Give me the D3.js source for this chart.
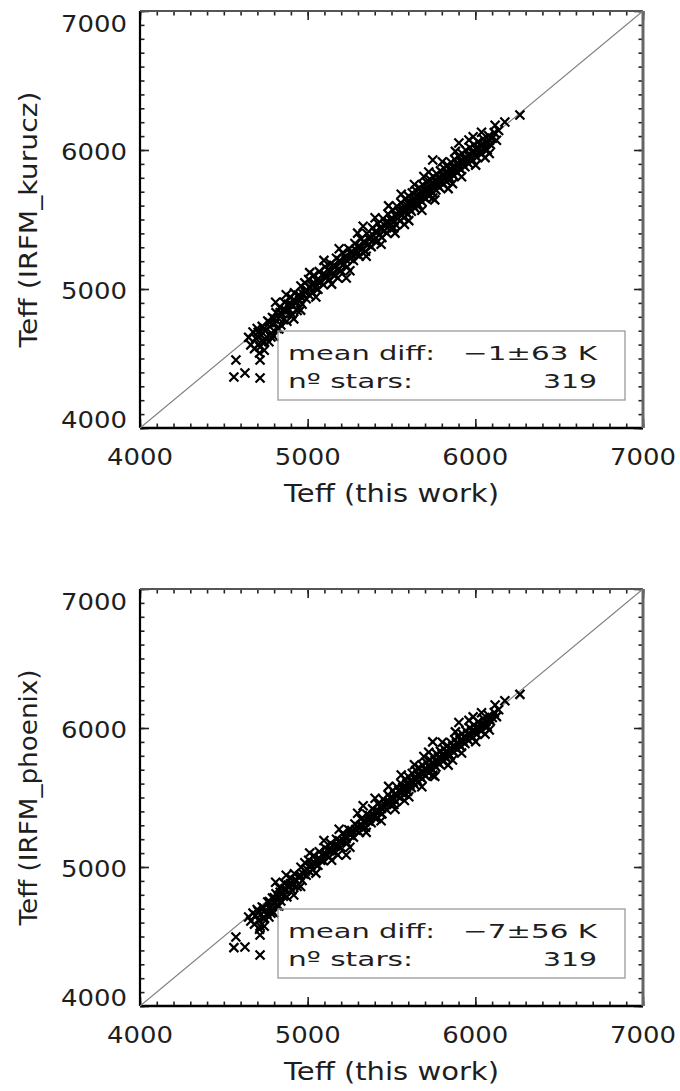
<!DOCTYPE html>
<html>
<head>
<meta charset="utf-8">
<script src="https://cdn.jsdelivr.net/npm/d3@7"></script>
<style>
  body { margin: 0; background: #fff; }
  text { font-family: "DejaVu Sans", sans-serif; fill: #1e1e1e; }
</style>
</head>
<body>
<div id="chart-area"></div>
<script>
// Teff of the stars, this work vs IRFM (kurucz / phoenix models)
var teffThisWork = [
  4560, 4572, 4626, 4716, 4716, 4716, 6176, 6266, 5746, 5902, 5746, 5514, 5180, 5230,
  4648, 4661, 4674, 4683, 4690, 4699, 4707, 4713, 4722, 4729,
  4735, 4741, 4748, 4756, 4762, 4769, 4775, 4783, 4790, 4797,
  4804, 4811, 4818, 4825, 4833, 4840, 4847, 4855, 4861, 4869,
  4876, 4884, 4892, 4899, 4906, 4914, 4921, 4929, 4937, 4944,
  4952, 4960, 4967, 4975, 4983, 4991, 4998, 5006, 5013, 5021,
  5029, 5037, 5045, 5053, 5061, 5069, 5078, 5086, 5094, 5103,
  5111, 5120, 5129, 5137, 5146, 5155, 5163, 5172, 5181, 5190,
  5199, 5208, 5217, 5226, 5236, 5245, 5254, 5263, 5273, 5282,
  5291, 5300, 5309, 5318, 5327, 5336, 5345, 5353, 5362, 5370,
  5379, 5387, 5395, 5403, 5411, 5419, 5427, 5435, 5443, 5450,
  5458, 5465, 5472, 5479, 5486, 5493, 5500, 5507, 5513, 5520,
  5526, 5532, 5538, 5544, 5550, 5556, 5562, 5568, 5574, 5580,
  5585, 5591, 5596, 5602, 5607, 5613, 5618, 5624, 5629, 5634,
  5640, 5645, 5650, 5656, 5661, 5666, 5671, 5677, 5682, 5687,
  5692, 5697, 5703, 5708, 5713, 5718, 5723, 5729, 5734, 5739,
  5744, 5750, 5755, 5760, 5765, 5771, 5776, 5781, 5786, 5792,
  5797, 5802, 5808, 5813, 5818, 5824, 5829, 5834, 5840, 5845,
  5850, 5856, 5861, 5866, 5872, 5877, 5883, 5888, 5893, 5899,
  5904, 5910, 5915, 5921, 5926, 5932, 5938, 5943, 5949, 5955,
  5961, 5967, 5973, 5979, 5985, 5991, 5997, 6004, 6010, 6017,
  6024, 6031, 6038, 6046, 6054, 6062, 6071, 6080, 6090, 6101,
  6113, 6126, 6139,
  4781, 4828, 4872, 4917, 4958, 5012, 5049, 5097, 5143, 5188,
  5252, 5298, 5349, 5402, 5438, 5483, 5521, 5558, 5603, 5637,
  5681, 5722, 5758, 5803, 5838, 5881, 5918, 5962, 6002, 6037,
  6083, 6118, 4742, 4809, 5331, 5577, 5693, 5864, 5987, 6058,
  4705, 4738, 4772, 4801, 4836, 4866, 4897, 4926, 4955, 4986,
  5016, 5042, 5074, 5106, 5133, 5166, 5196, 5229, 5259, 5287,
  5315, 5342, 5368, 5392, 5416, 5440, 5462, 5485, 5509, 5530,
  5552, 5571, 5590, 5610, 5628, 5648, 5668, 5689, 5710, 5731,
  5752, 5773, 5794, 5815, 5836, 5858, 5879, 5901, 5924, 5946,
  5970, 5995, 6022, 6052, 6085
];
var teffKurucz = [
  4367, 4489, 4396, 4360, 4489, 4583, 6201, 6252, 5928, 6050, 5655, 5439, 5079, 5079,
  4652, 4598, 4690, 4571, 4645, 4716, 4602, 4540, 4668, 4731,
  4618, 4560, 4702, 4655, 4770, 4621, 4728, 4684, 4795, 4660,
  4752, 4830, 4716, 4790, 4868, 4741, 4822, 4779, 4905, 4836,
  4768, 4890, 4851, 4941, 4820, 4880, 4972, 4902, 4845, 4955,
  4918, 5021, 4890, 4962, 5044, 4930, 4989, 5068, 4952, 5030,
  4975, 5099, 5010, 5061, 4998, 5125, 5052, 5101, 5030, 5160,
  5082, 5138, 5066, 5181, 5110, 5170, 5098, 5221, 5140, 5205,
  5131, 5259, 5178, 5236, 5160, 5290, 5220, 5271, 5205, 5328,
  5250, 5305, 5238, 5360, 5289, 5342, 5271, 5399, 5320, 5378,
  5305, 5440, 5352, 5410, 5338, 5471, 5390, 5446, 5370, 5505,
  5420, 5478, 5401, 5540, 5451, 5502, 5438, 5568, 5480, 5530,
  5462, 5595, 5508, 5561, 5489, 5620, 5531, 5580, 5512, 5648,
  5555, 5602, 5538, 5668, 5578, 5625, 5560, 5690, 5601, 5650,
  5582, 5709, 5622, 5671, 5605, 5728, 5642, 5695, 5628, 5749,
  5661, 5712, 5650, 5770, 5684, 5735, 5670, 5790, 5706, 5752,
  5690, 5808, 5725, 5775, 5712, 5828, 5745, 5796, 5731, 5850,
  5768, 5815, 5752, 5869, 5788, 5836, 5772, 5890, 5809, 5858,
  5795, 5910, 5830, 5878, 5815, 5932, 5851, 5899, 5836, 5955,
  5872, 5920, 5858, 5975, 5895, 5941, 5880, 5998, 5915, 5962,
  5901, 6018, 5938, 5985, 5925, 6040, 5960, 6008, 5948, 6060,
  5982, 6030, 5972, 6081, 6008, 6055, 6000, 6102, 6040, 6085,
  6125, 6070, 6140,
  4655, 4712, 4958, 4785, 4848, 5118, 4942, 5206, 5035, 5290,
  5131, 5402, 5236, 5512, 5322, 5598, 5402, 5681, 5492, 5752,
  5566, 5842, 5641, 5915, 5722, 5990, 5808, 6072, 5891, 6128,
  5975, 6178, 4620, 4905, 5452, 5465, 5810, 5758, 6096, 5945,
  4688, 4712, 4760, 4785, 4830, 4850, 4890, 4915, 4950, 4975,
  5010, 5040, 5060, 5100, 5125, 5160, 5188, 5210, 5252, 5280,
  5301, 5330, 5358, 5385, 5410, 5428, 5455, 5476, 5500, 5522,
  5545, 5560, 5580, 5603, 5618, 5640, 5660, 5680, 5702, 5720,
  5746, 5765, 5786, 5808, 5825, 5850, 5870, 5895, 5915, 5938,
  5960, 5985, 6012, 6040, 6070
];
var teffPhoenix = [
  4420, 4496, 4424, 4367, 4511, 4575, 6196, 6242, 5900, 6040, 5660, 5450, 5086, 5086,
  4640, 4611, 4668, 4589, 4652, 4694, 4615, 4552, 4660, 4712,
  4630, 4574, 4689, 4661, 4748, 4640, 4715, 4690, 4777, 4671,
  4740, 4808, 4722, 4786, 4850, 4755, 4804, 4790, 4882, 4829,
  4785, 4871, 4860, 4920, 4835, 4872, 4951, 4906, 4860, 4930,
  4925, 4998, 4903, 4950, 5030, 4941, 4980, 5049, 4966, 5014,
  4980, 5082, 5022, 5047, 5012, 5110, 5049, 5088, 5045, 5139,
  5090, 5122, 5072, 5170, 5118, 5151, 5110, 5200, 5150, 5188,
  5142, 5240, 5186, 5225, 5172, 5268, 5228, 5262, 5215, 5310,
  5262, 5290, 5250, 5345, 5295, 5330, 5286, 5380, 5331, 5369,
  5318, 5418, 5360, 5401, 5350, 5455, 5398, 5432, 5382, 5488,
  5428, 5470, 5412, 5520, 5459, 5499, 5446, 5549, 5490, 5522,
  5471, 5578, 5512, 5550, 5498, 5601, 5540, 5574, 5521, 5630,
  5560, 5598, 5545, 5649, 5585, 5618, 5571, 5672, 5608, 5639,
  5590, 5695, 5630, 5662, 5612, 5712, 5650, 5684, 5636, 5730,
  5672, 5705, 5655, 5752, 5690, 5726, 5679, 5772, 5712, 5748,
  5700, 5795, 5731, 5766, 5720, 5812, 5752, 5788, 5740, 5832,
  5775, 5809, 5760, 5851, 5794, 5830, 5782, 5873, 5815, 5850,
  5802, 5894, 5838, 5870, 5826, 5915, 5858, 5892, 5845, 5936,
  5880, 5912, 5865, 5958, 5901, 5935, 5888, 5980, 5922, 5956,
  5910, 6001, 5945, 5978, 5932, 6022, 5966, 6000, 5955, 6045,
  5990, 6021, 5981, 6068, 6015, 6046, 6010, 6090, 6050, 6075,
  6112, 6082, 6131,
  4668, 4720, 4940, 4798, 4860, 5101, 4956, 5190, 5048, 5272,
  5142, 5386, 5249, 5495, 5333, 5580, 5415, 5662, 5505, 5735,
  5578, 5826, 5652, 5898, 5733, 5972, 5820, 6055, 5902, 6110,
  5986, 6165, 4632, 4890, 5440, 5478, 5795, 5770, 6080, 5956,
  4680, 4705, 4751, 4779, 4818, 4846, 4880, 4908, 4941, 4970,
  5002, 5030, 5055, 5091, 5118, 5152, 5180, 5205, 5244, 5270,
  5296, 5325, 5350, 5376, 5402, 5421, 5448, 5470, 5492, 5515,
  5536, 5555, 5574, 5595, 5612, 5632, 5651, 5674, 5695, 5714,
  5738, 5757, 5780, 5800, 5818, 5842, 5864, 5886, 5909, 5930,
  5952, 5978, 6004, 6033, 6062
];

var axisRange = [4000, 7000];
var majorTicks = [4000, 5000, 6000, 7000];
var tickLabels = ["4000", "5000", "6000", "7000"];
var minorTicks = d3.range(4000, 7001, 100);

var panelTitles = ["Teff (IRFM_kurucz)", "Teff (IRFM_phoenix)"];
var meanDiffs = ["\u22121\u00b163 K", "\u22127\u00b156 K"];
var nStars = ["319", "319"];

// draw the "canvas"
var svg = d3.select("#chart-area")
    .append("svg")
    .attr("width", 680)
    .attr("height", 1091);

var left = 140, right = 643;
var x = d3.scaleLinear().domain(axisRange).range([left, right]);

function drawPanel(top, bottom, yValues, yTitle, meanText, starsText) {
    var y = d3.scaleLinear().domain(axisRange).range([bottom, top]);
    var g = svg.append("g");

    // ticks on all four sides, pointing inwards
    var axes = [
        [d3.axisBottom(x), bottom, 0],
        [d3.axisTop(x), top, 0],
        [d3.axisLeft(y), 0, left],
        [d3.axisRight(y), 0, right]
    ];
    axes.forEach(function (a) {
        var minor = g.append("g")
            .attr("transform", "translate(" + a[2] + "," + a[1] + ")")
            .call(a[0].tickValues(minorTicks).tickSize(-4.5).tickFormat(""));
        minor.select(".domain").remove();
        minor.selectAll("line").attr("stroke", "#222").attr("stroke-width", 1.6);
        var major = g.append("g")
            .attr("transform", "translate(" + a[2] + "," + a[1] + ")")
            .call(a[0].tickValues(majorTicks).tickSize(-9).tickFormat(""));
        major.select(".domain").remove();
        major.selectAll("line").attr("stroke", "#222").attr("stroke-width", 1.6);
    });

    // frame
    g.append("line").attr("x1", left).attr("x2", right).attr("y1", bottom).attr("y2", bottom)
        .attr("stroke", "#000").attr("stroke-width", 2.4);
    g.append("line").attr("x1", left).attr("x2", left).attr("y1", top).attr("y2", bottom)
        .attr("stroke", "#000").attr("stroke-width", 2.2);
    g.append("line").attr("x1", left).attr("x2", right).attr("y1", top).attr("y2", top)
        .attr("stroke", "#555").attr("stroke-width", 2);
    g.append("line").attr("x1", right).attr("x2", right).attr("y1", top).attr("y2", bottom)
        .attr("stroke", "#666").attr("stroke-width", 3);

    // 1:1 line
    g.append("line")
        .attr("x1", x(4000)).attr("y1", y(4000))
        .attr("x2", x(7000)).attr("y2", y(7000))
        .attr("stroke", "#808080").attr("stroke-width", 1.1);

    // x tick labels
    g.selectAll(".xlab").data(majorTicks).enter().append("text")
        .attr("x", function (d) { return x(d); })
        .attr("y", bottom + 37)
        .attr("text-anchor", "middle")
        .attr("font-size", 23)
        .attr("textLength", 66)
        .attr("lengthAdjust", "spacingAndGlyphs")
        .text(function (d, i) { return tickLabels[i]; });

    // y tick labels (end ones kept inside the frame)
    g.selectAll(".ylab").data(majorTicks).enter().append("text")
        .attr("x", 127)
        .attr("y", function (d, i) {
            if (i === 0) return bottom;
            if (i === majorTicks.length - 1) return top + 21;
            return y(d) + 10;
        })
        .attr("text-anchor", "end")
        .attr("font-size", 23)
        .attr("textLength", 66)
        .attr("lengthAdjust", "spacingAndGlyphs")
        .text(function (d, i) { return tickLabels[i]; });

    // axis titles
    g.append("text")
        .attr("x", (left + right) / 2)
        .attr("y", bottom + 74)
        .attr("text-anchor", "middle")
        .attr("font-size", 24)
        .attr("textLength", 215)
        .attr("lengthAdjust", "spacingAndGlyphs")
        .text("Teff (this work)");

    g.append("text")
        .attr("transform", "translate(37," + (top + bottom) / 2 + ") rotate(-90)")
        .attr("text-anchor", "middle")
        .attr("font-size", 24)
        .attr("textLength", 256)
        .attr("lengthAdjust", "spacingAndGlyphs")
        .text(yTitle);

    // the stars
    g.selectAll(".star").data(teffThisWork).enter().append("path")
        .attr("transform", function (d, i) {
            return "translate(" + x(d) + "," + y(yValues[i]) + ")";
        })
        .attr("d", "M-4.5,-4.5L4.5,4.5M-4.5,4.5L4.5,-4.5")
        .attr("fill", "none")
        .attr("stroke", "#000")
        .attr("stroke-width", 2.2);

    // legend box
    g.append("rect")
        .attr("x", 278).attr("y", bottom - 97)
        .attr("width", 347).attr("height", 69)
        .attr("fill", "none")
        .attr("stroke", "#9a9a9a").attr("stroke-width", 1.3);

    var legend = [
        ["mean diff:", 288, bottom - 68, 147],
        [meanText, 463, bottom - 68, 134],
        ["n\u00ba stars:", 288, bottom - 40, 125],
        [starsText, 543, bottom - 40, 54]
    ];
    legend.forEach(function (l) {
        g.append("text")
            .attr("x", l[1]).attr("y", l[2])
            .attr("font-size", 20)
            .attr("textLength", l[3])
            .attr("lengthAdjust", "spacingAndGlyphs")
            .text(l[0]);
    });
}

drawPanel(11, 428, teffKurucz, panelTitles[0], meanDiffs[0], nStars[0]);
drawPanel(589, 1006, teffPhoenix, panelTitles[1], meanDiffs[1], nStars[1]);
</script>
</body>
</html>
